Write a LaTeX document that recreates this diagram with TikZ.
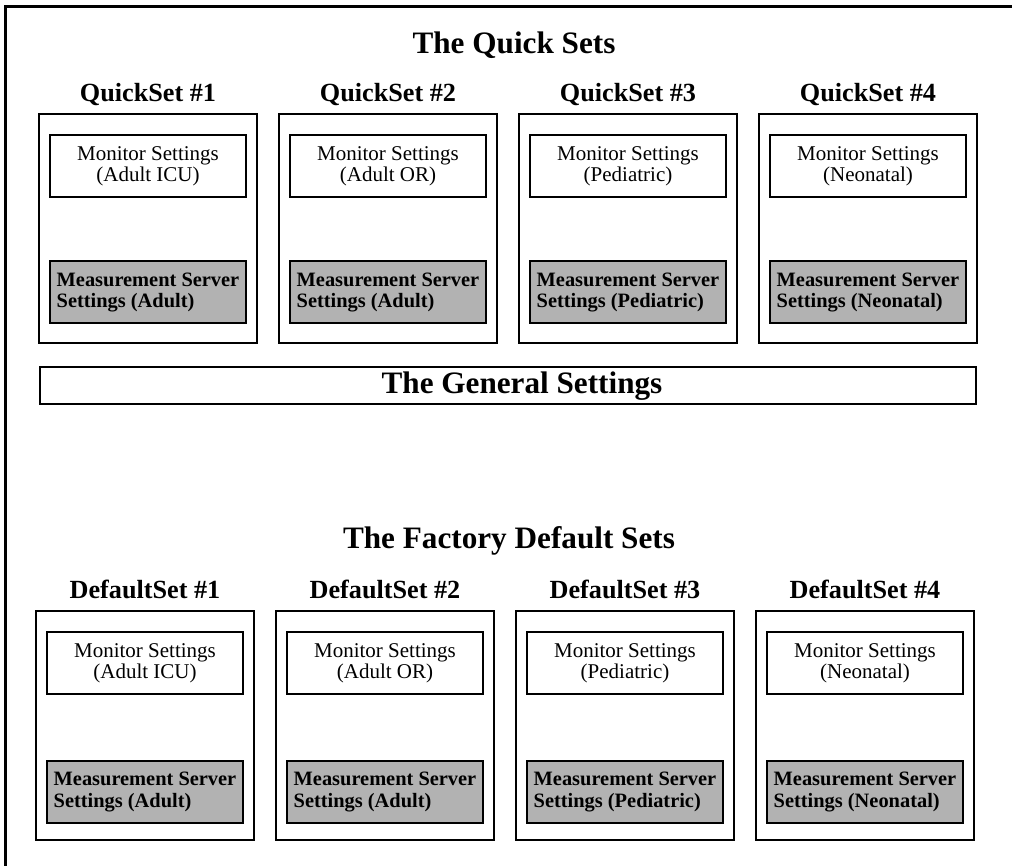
\documentclass[tikz,border=0pt]{standalone}
\usepackage{fontspec}
\setmainfont{Liberation Serif}
\usetikzlibrary{positioning}

\tikzset{
  setbox/.style={draw, line width=1pt, minimum width=109pt, minimum height=114.5pt, inner sep=0pt, outer sep=0pt},
  monbox/.style={draw, line width=1pt, minimum width=98pt, minimum height=31pt, inner sep=0pt, outer sep=0pt,
    align=center, font=\fontsize{10.5}{10.6}\selectfont},
  srvbox/.style={draw, line width=1pt, fill=black!30, minimum width=98pt, minimum height=31pt, inner sep=0pt, outer sep=0pt,
    align=left, font=\fontsize{10.2}{10.8}\selectfont\bfseries},
  setname/.style={anchor=base, font=\fontsize{13.1}{15}\selectfont\bfseries},
  bigtitle/.style={anchor=base, font=\fontsize{15.6}{18}\selectfont\bfseries},
  genbox/.style={draw, line width=1pt, minimum width=468pt, minimum height=18.5pt, inner sep=0pt,
    font=\fontsize{15.6}{18}\selectfont\bfseries},
}

\begin{document}
\begin{tikzpicture}[x=0.5pt, y=-0.5pt]
    \useasboundingbox (0,0) rectangle (1012,866);

    % Outer frame (cut off at the right and at the bottom)
    \draw[line width=1.5pt] (5.5,870) -- (5.5,6.5) -- (1016,6.5);

    % The quick sets
    \node[bigtitle] (quicktitle) at (514,53.3) {The Quick Sets};
    \foreach \i/\mode/\srv in {1/Adult ICU/Adult, 2/Adult OR/Adult, 3/Pediatric/Pediatric, 4/Neonatal/Neonatal} {
        \node[setbox] (q\i) at ({148+240*(\i-1)},228.5) {};
        \node[setname] (q\i-name) at ([yshift=6.2pt]q\i.north) {QuickSet \#\i};
        \node[monbox, below=10.5pt of q\i.north] (q\i-mon) {Monitor Settings\\(\mode)};
        \node[srvbox, above=9.75pt of q\i.south] (q\i-srv) {Measurement Server\\Settings (\srv)};
    }

    % General settings bar
    \node[genbox] (general) at (508,385.8) {\hspace*{14pt}The General Settings};

    % The factory default sets
    \node[bigtitle] (defaulttitle) at (509,548) {The Factory Default Sets};
    \foreach \i/\mode/\srv in {1/Adult ICU/Adult, 2/Adult OR/Adult, 3/Pediatric/Pediatric, 4/Neonatal/Neonatal} {
        \node[setbox] (d\i) at ({145+240*(\i-1)},725) {};
        \node[setname] (d\i-name) at ([yshift=6.1pt]d\i.north) {DefaultSet \#\i};
        \node[monbox, below=10.75pt of d\i.north] (d\i-mon) {Monitor Settings\\(\mode)};
        \node[srvbox, above=8.4pt of d\i.south] (d\i-srv) {Measurement Server\\Settings (\srv)};
    }
\end{tikzpicture}
\end{document}
